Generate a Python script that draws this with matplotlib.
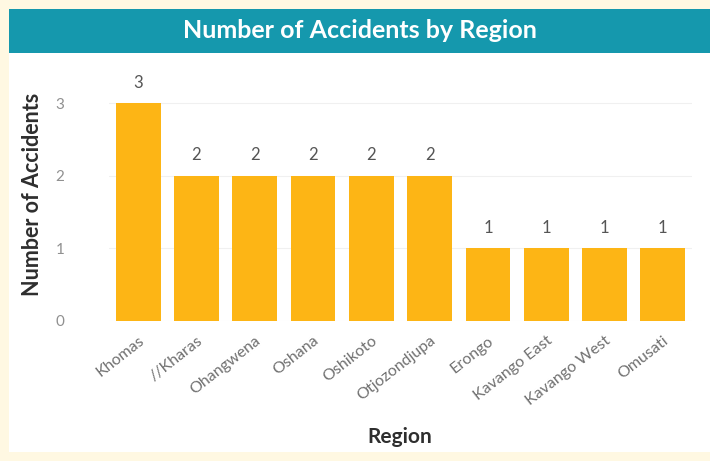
import matplotlib
matplotlib.use("Agg")
import matplotlib.pyplot as plt
from matplotlib.patches import Rectangle

regions = ["Khomas", "//Kharas", "Ohangwena", "Oshana", "Oshikoto", "Otjozondjupa",
           "Erongo", "Kavango East", "Kavango West", "Omusati"]
accidents = [3, 2, 2, 2, 2, 2, 1, 1, 1, 1]
yticks = [0, 1, 2, 3]

plt.rcParams['font.family'] = ['Lato', 'DejaVu Sans']

W, H = 710, 461
fig = plt.figure(figsize=(W / 100, H / 100), dpi=100)
fig.patch.set_facecolor('#FFF8E2')

# white panel
fig.add_artist(Rectangle((9 / W, 9 / H), (W - 9) / W, (H - 18) / H,
                         transform=fig.transFigure, facecolor='white',
                         edgecolor='none', zorder=0))
# title band
fig.add_artist(Rectangle((9 / W, 1 - 53 / H), (W - 9) / W, 44 / H,
                         transform=fig.transFigure, facecolor='#1598AD',
                         edgecolor='none', zorder=1))
fig.text((9 + W) / 2 / W, 1 - 30 / H, "Number of Accidents by Region",
         ha='center', va='center', color='white', fontsize=18, fontweight='bold')

ax = fig.add_axes([109 / W, 1 - 321 / H, (692 - 109) / W, (321 - 74) / H])
ax.set_facecolor('none')
x = range(len(regions))
bars = ax.bar(x, accidents, width=0.77, color='#FDB515', zorder=2)
for xi, v in zip(x, accidents):
    ax.text(xi, v + 0.17, str(v), ha='center', va='bottom', color='#555555', fontsize=12)

ax.set_xlim(-0.5, len(regions) - 0.5)
ax.set_ylim(0, 3.4)
ax.set_yticks(yticks)
ax.set_yticklabels([str(t) for t in yticks], color='#909090', fontsize=11)
ax.set_xticks(list(x))
ax.set_xticklabels(regions, rotation=38, ha='right', rotation_mode='anchor',
                   color='#707070', fontsize=11.5)
for lbl in ax.get_xticklabels():
    lbl.set_x(lbl.get_position()[0])
ax.tick_params(axis='both', length=0)
ax.tick_params(axis='x', pad=9)
ax.tick_params(axis='y', pad=32)
ax.grid(axis='y', color='#F0F0F0', linewidth=0.8, zorder=0)
for s in ax.spines.values():
    s.set_visible(False)

fig.text(33 / W, 1 - 194 / H, "Number of Accidents", rotation=90, ha='center',
         va='center', fontsize=15.5, fontweight='bold', color='#2E2E2E')
fig.text(400 / W, 1 - 437 / H, "Region", ha='center', va='center',
         fontsize=15, fontweight='bold', color='#2E2E2E')

fig.savefig("out.png", dpi=100)
